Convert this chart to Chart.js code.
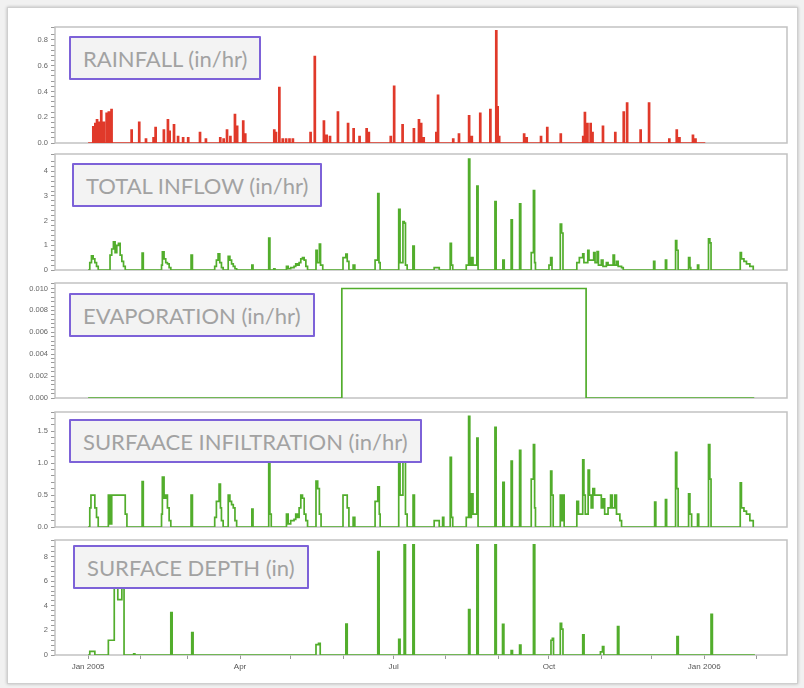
<!DOCTYPE html>
<html><head><meta charset="utf-8">
<script src="https://cdn.jsdelivr.net/npm/chart.js@4.4.1/dist/chart.umd.min.js"></script>
<style>
html,body{margin:0;padding:0;background:#f1f1f1;}
#page{position:relative;width:804px;height:688px;overflow:hidden;background:#f1f1f1;}
#frame{position:absolute;left:7px;top:7px;width:789px;height:675px;background:#fff;border:1px solid #cfcfcf;box-shadow:0 0 3px rgba(0,0,0,0.25);}
canvas{position:absolute;left:0;}
.lbl{position:absolute;height:40px;line-height:41px;padding:0 12px;border:2px solid #7d62d8;background:#f3f3f3;color:#a2a2a2;font-family:Lato,'Open Sans',sans-serif;font-size:22px;white-space:nowrap;box-sizing:content-box;border-radius:1px;}
</style></head>
<body><div id="page"><div id="frame"></div>
<canvas id="c0"></canvas><canvas id="c1"></canvas><canvas id="c2"></canvas><canvas id="c3"></canvas><canvas id="c4"></canvas>
<div class="lbl" style="left:69px;top:36px;">RAINFALL (in/hr)</div>
<div class="lbl" style="left:72px;top:163px;">TOTAL INFLOW (in/hr)</div>
<div class="lbl" style="left:69px;top:293px;">EVAPORATION (in/hr)</div>
<div class="lbl" style="left:69px;top:419px;">SURFAACE INFILTRATION (in/hr)</div>
<div class="lbl" style="left:73px;top:545px;">SURFACE DEPTH (in)</div>
</div>
<script>
// ---- data (days since 1 Jan 2005; each value holds until the next listed day) ----
const rainDays = [0,
 2.8,3.4, 4,4.6, 5,5.6, 6.5,7.1, 7.5,8.1, 9,9.6, 10.7,11.3, 12,12.6, 13.6,14.2,
 25.5,26.1, 30,30.6, 34,34.6, 38.5,39.1, 39.7,40.3, 44.6,45.2, 47,47.6, 48,48.6, 50.6,51.2, 53,53.6, 56,56.6, 59,59.6,
 66,66.6, 69.5,70.1, 78,78.6, 80,80.6, 82,82.6, 84,84.6, 86.7,87.3, 88,88.6, 91.6,92.2, 92.8,93.4,
 110,110.6, 111,111.6, 113,113.6, 115,115.6, 117,117.6, 119,119.6, 121,121.6,
 131.5,132.1, 134,134.6, 139.4,140, 141,141.6, 143,143.6, 147.7,148.3, 153.7,154.3, 157,157.6, 160.5,161.1, 164.7,165.3, 166,166.6,
 179,179.6, 181,181.6, 186,186.6, 192.7,193.3, 195.7,196.3, 197,197.6, 198.5,199.1,
 206,206.6, 207,207.6, 216,216.6, 219.4,220, 225.4,226, 227,227.6, 232,232.6, 238,238.6, 241.5,242.1, 242.3,242.9, 243.2,243.8,
 258,258.6, 259.5,260.1, 268,268.6, 271.7,272.3, 279.7,280.3,
 293,293.6, 294,294.6, 295.5,296.1, 297.4,298, 298.5,299.1, 304.7,305.3, 312,312.6, 317,317.6, 319,319.6, 327,327.6, 332,332.6,
 344,344.6, 348.4,349, 350,350.6, 358,358.6, 359.5,360.1, 365.6];
const rainVals = [0,
 0.125,0, 0.15,0, 0.18,0, 0.16,0, 0.25,0, 0.16,0, 0.23,0, 0.24,0, 0.26,0,
 0.10,0, 0.16,0, 0.03,0, 0.04,0, 0.12,0, 0.10,0, 0.18,0, 0.09,0, 0.14,0, 0.05,0, 0.04,0, 0.04,0,
 0.08,0, 0.03,0, 0.04,0, 0.03,0, 0.10,0, 0.05,0, 0.22,0, 0.13,0, 0.17,0, 0.07,0,
 0.10,0, 0.08,0, 0.43,0, 0.03,0, 0.03,0, 0.03,0, 0.03,0,
 0.08,0, 0.67,0, 0.17,0, 0.06,0, 0.05,0, 0.24,0, 0.15,0, 0.11,0, 0.05,0, 0.11,0, 0.08,0,
 0.05,0, 0.44,0, 0.14,0, 0.11,0, 0.18,0, 0.15,0, 0.04,0,
 0.08,0, 0.37,0, 0.03,0, 0.07,0, 0.21,0, 0.05,0, 0.23,0, 0.26,0, 0.87,0, 0.28,0, 0.05,0,
 0.07,0, 0.04,0, 0.05,0, 0.12,0, 0.07,0,
 0.05,0, 0.235,0, 0.15,0, 0.15,0, 0.08,0, 0.13,0, 0.08,0, 0.24,0, 0.31,0, 0.10,0, 0.31,0,
 0.03,0, 0.10,0, 0.04,0, 0.06,0, 0.03,0, 0];

const inflowDays = [0, 1,2,3,4,5,6, 13,14,15,16,17,18,19,20,21,22, 32,32.7, 43.5,44,45,46,47,48,49, 61,61.8, 75,76,77,78,79,80, 83,84,85,86,87,88, 97,97.7, 107,107.7, 110,110.7,
 117.5,118.5,120,121,122,123,124,125,126,127,128,129,130, 135,135.7,137,137.7,139, 151,152.7,153.5,154.5, 157,158, 170,171.6,172.3,173, 184,184.8,186.5,187.3,188,189, 192.4,193.2,
 205,207,208, 214.5,215.2,216, 224,225.4,226.1,227,228,230.3,231, 241,241.7, 245.7,246.5, 250.6,251.3, 255.6,256.3, 262.5,263.8,264.5,265, 273,274,274.8, 279.7,280.5,281.3,
 289.5,291,293,293.7,296,296.7,299.5,300.3,301.5,302.3,304,305,307,308,311,311.8,313,314,316,317, 335,335.7, 342,342.7, 348,348.7,349.5, 355.7,356.5,357, 361,361.7, 367.5,368.3,369,
 386.3,387,388.5,390,392,394];
const inflowVals = [0, 0.3,0.57,0.45,0.3,0.15,0, 0.6,0.85,1.14,0.7,1.0,1.08,0.6,0.35,0.15,0, 0.68,0, 0.2,0.74,0.45,0.3,0.25,0.1,0, 0.6,0, 0.15,0.4,0.65,0.3,0.1,0, 0.55,0.4,0.25,0.15,0.05,0, 0.2,0, 1.29,0, 0.05,0,
 0.15,0.05,0.1,0.1,0.15,0.25,0.2,0.3,0.45,0.5,0.4,0.15,0, 0.8,0.3,1.05,0.2,0, 0.5,0.64,0.35,0, 0.2,0, 0.4,3.1,0.3,0, 2.46,0.3,1.96,1.9,0.2,0, 0.97,0,
 0.1,0.1,0, 1.08,0.2,0, 0.2,4.49,0.2,0.5,0.2,3.4,0, 2.77,0, 0.4,0, 2.03,0, 2.68,0, 0.7,3.22,0.3,0, 0.2,0.5,0, 1.86,1.5,0,
 0.3,0.5,0.65,0.3,0.8,0.4,0.7,0.3,0.75,0.2,0.4,0.15,0.3,0.2,0.6,0.2,0.35,0.15,0.1,0, 0.35,0, 0.4,0, 1.19,0.8,0, 0.5,0.1,0, 0.2,0, 1.26,1.1,0,
 0.7,0.45,0.35,0.25,0.15,0];

const evapDays = [0, 150.3, 295, 394.6];
const evapVals = [0, 0.01, 0, 0];

const infilDays = [0, 1,1.7,3,4,5,6, 12,13,14,22,23, 32,32.7, 43.5,44,45,46,47,48,49, 61,61.8, 75,76,77.6,78.4,79,80, 83,84,85,86,87,88, 97,97.7, 107,107.7,108.5,
 117.5,118.5,120,122,123,124,125,126,127,128,129,130, 135,136,137,138, 151,152.5,153.5,154.5, 157,158, 170,171.6,172.5,173, 184,184.8,186.5,187.3,188,189, 192.5,193.3,
 205,207,208, 210,210.7, 214.5,215.2,216, 224,225.4,226.1,227,228,230.3,231, 241,241.7, 245.7,246.5, 250.6,251.3, 255.6,256.3, 262.5,263.8,264.5,265, 274,274.7,275.5, 279.7,280.4,281.3,282,
 289.5,290.5,293,293.7,294.5,296.2,297,298,299,300,301.5,302.5,304,305,306,308,309.5,310.5,312,313,315,316,
 335.6,336.3, 342,342.7, 348,348.7,349.5, 355.7,356.5,357.5, 361,361.7, 367.5,368.3,369, 386.3,387,388.5,390,392,394];
const infilVals = [0, 0.3,0.5,0.5,0.3,0.15,0, 0.5,0.05,0.5,0.2,0, 0.71,0, 0.2,0.78,0.45,0.5,0.3,0.1,0, 0.5,0, 0.15,0.4,0.67,0.3,0.1,0, 0.5,0.4,0.35,0.3,0.1,0, 0.28,0, 1.05,0.2,0,
 0.2,0.05,0.1,0.12,0.2,0.15,0.3,0.5,0.45,0.2,0.1,0, 0.72,0.6,0.2,0, 0.5,0.5,0.3,0, 0.15,0, 0.4,0.63,0.2,0, 1.3,0.5,1.2,1.04,0.2,0, 0.5,0,
 0.1,0.1,0, 0.15,0, 1.09,0.15,0, 0.15,1.73,0.15,0.52,0.2,1.39,0, 1.56,0, 0.7,0, 1.03,0, 1.2,0, 0.75,1.29,0.3,0, 0.875,0.5,0, 0.5,0.1,0.5,0,
 0.4,0.2,1.05,0.5,0.2,0.89,0.5,0.3,0.6,0.5,0.5,0.5,0.3,0.44,0.2,0.3,0.5,0.3,0.5,0.2,0.1,0,
 0.39,0, 0.43,0, 1.17,0.6,0, 0.52,0.2,0, 0.2,0, 1.29,0.75,0, 0.69,0.3,0.25,0.2,0.1,0];

const depthDays = [0, 1,4, 12,15.5,17.6,20,21.3, 27,27.7, 49,49.8, 61.4,62.2, 135,136.5,137.5, 152.7,153.5, 171.6,172.4, 184,184.8, 187.2,188, 192.4,193.2,
 225.4,226.2, 230.3,231.1, 241,241.8, 245.5,246.3, 250.6,251.4, 255.6,256.4, 263.8,264.6, 274.2,275,275.7, 279.7,280.5,281.3, 293,293.8, 303.5,304.7,305.5,
 313.6,314.4, 348.8,349.6, 369,369.8, 395];
const depthVals = [0, 0.3,0, 1.2,5.6,4.5,5.5,0, 0.1,0, 3.44,0, 1.82,0, 0.85,0.95,0, 2.52,0, 8.4,0, 1.27,0, 8.95,0, 8.95,0,
 3.7,0, 8.95,0, 8.95,0, 2.5,0, 0.35,0, 0.8,0, 8.95,0, 1.2,1.35,0, 2.57,2.1,0, 1.63,0, 0.25,0.68,0,
 2.3,0, 1.5,0, 3.3,0, 0];

// x-axis ticks (days) and labels
const xTickDays = [0,31,59,90,120,151,181,212,243,273,304,334,365,396];
const xTickLabels = ['Jan 2005','','','Apr','','','Jul','','','Oct','','','Jan 2006',''];

// y-axis ranges / tick steps
const yMaxes  = [0.9, 4.7, 0.0105, 1.8, 9.35];
const yMajor  = [0.2, 1, 0.002, 0.5, 2];
const yMinor  = [0.04, 0.2, 0.0004, 0.1, 0.4];
const yDigits = [1, 0, 3, 1, 0];

// ---- rendering ----
const RED = '#e0392a', GREEN = '#52ad2c';
const series = [
  {days: rainDays, vals: rainVals, color: RED, fillColor: 'rgba(224,57,42,0.75)'},
  {days: inflowDays, vals: inflowVals, color: GREEN, fillColor: null},
  {days: evapDays, vals: evapVals, color: GREEN, fillColor: null},
  {days: infilDays, vals: infilVals, color: GREEN, fillColor: null},
  {days: depthDays, vals: depthVals, color: GREEN, fillColor: null}
];
const panelTop = [27, 154, 283, 412, 540];
const panelBottom = [143, 270, 398, 527, 655];
const PAD = 8, XAX = 22, W = 804;

const framePlugin = {
  id: 'frame',
  beforeDatasetsDraw(chart) {
    const {ctx, chartArea: a} = chart;
    ctx.save();
    ctx.strokeStyle = '#c2c2c2';
    ctx.lineWidth = 1.5;
    ctx.strokeRect(a.left, a.top, a.right - a.left, a.bottom - a.top);
    ctx.restore();
  }
};

Chart.defaults.font.family = "'Liberation Sans', Arial, sans-serif";

series.forEach((s, i) => {
  const last = i === series.length - 1;
  const cv = document.getElementById('c' + i);
  const h = panelBottom[i] - panelTop[i] + 2 * PAD + (last ? XAX : 0);
  cv.width = W; cv.height = h;
  cv.style.width = W + 'px'; cv.style.height = h + 'px';
  cv.style.top = (panelTop[i] - PAD) + 'px';
  const major = yMajor[i];
  new Chart(cv, {
    type: 'line',
    data: {
      datasets: [{
        data: s.days.map((d, k) => ({x: d, y: s.vals[k]})),
        borderColor: s.color,
        backgroundColor: s.fillColor || 'transparent',
        borderWidth: 1.7,
        pointRadius: 0,
        stepped: true,
        fill: s.fillColor ? 'origin' : false
      }]
    },
    options: {
      responsive: false,
      animation: false,
      devicePixelRatio: 1,
      layout: {padding: {left: 0, right: 17, top: PAD, bottom: PAD}},
      plugins: {legend: {display: false}, tooltip: {enabled: false}, filler: {propagate: false}},
      scales: {
        x: {
          type: 'linear', min: -19.6, max: 414,
          display: last,
          afterBuildTicks: sc => { sc.ticks = xTickDays.map(v => ({value: v})); },
          afterFit: sc => { sc.height = last ? XAX : 0; },
          grid: {drawOnChartArea: false, tickLength: 4, tickColor: '#999'},
          border: {display: false},
          ticks: {
            autoSkip: false, maxRotation: 0, padding: 3,
            color: '#555', font: {size: 8},
            callback: (v, k) => xTickLabels[k]
          }
        },
        y: {
          min: 0, max: yMaxes[i],
          afterFit: sc => { sc.width = 55; },
          grid: {drawOnChartArea: false, tickLength: 4, tickColor: '#9a9a9a'},
          border: {display: false},
          ticks: {
            stepSize: yMinor[i], autoSkip: false, padding: 3,
            color: '#666', font: {size: 7.5},
            callback: v => {
              const r = v / major;
              return Math.abs(r - Math.round(r)) < 1e-6 ? Number(v).toFixed(yDigits[i]) : '';
            }
          }
        }
      }
    },
    plugins: [framePlugin]
  });
});
</script>
</body></html>
